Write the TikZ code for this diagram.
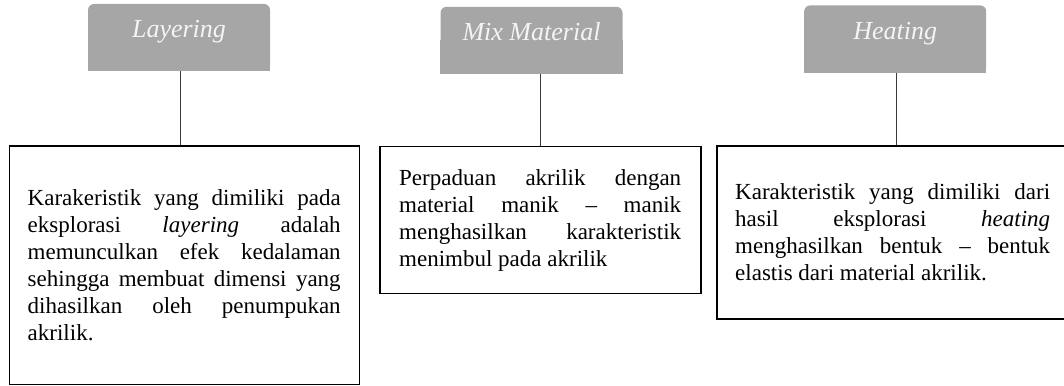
\documentclass[tikz,border=0pt]{standalone}
\usepackage{fontspec}
\setmainfont{Liberation Serif}
\usetikzlibrary{backgrounds}
\hyphenpenalty=10000
\tolerance=9999
\hbadness=10000
\definecolor{tabgray}{HTML}{A6A6A6}
\definecolor{tabtext}{HTML}{F4F4F4}
\definecolor{linkgray}{HTML}{3A3A3A}
\tikzset{
    tab/.style={fill=tabgray, rounded corners=6pt, inner sep=0pt,
        minimum width=182pt, minimum height=67pt,
        text height=34pt, text depth=33pt, text=tabtext,
        font=\fontsize{26}{30}\selectfont\itshape},
    card/.style={draw, line width=1.5pt, inner sep=0pt, anchor=north west},
    cardtext/.style={anchor=base west, inner sep=0pt, align=justify,
        font=\fontsize{23}{27}\selectfont},
    link/.style={draw=linkgray, line width=1pt}
}

\begin{document}
\begin{tikzpicture}[x=1pt, y=1pt]
        \useasboundingbox (0,0) rectangle (1064,-385);

        \node[tab] (layTab) at (179,-37.5) {Layering};
        \node[tab] (mixTab) at (531.5,-40.3) {Mix Material};
        \node[tab] (heatTab) at (895.2,-38.9) {Heating};

        \begin{scope}[on background layer]
            \foreach \n in {layTab, mixTab, heatTab} {
                \fill[tabgray] (\n.west) rectangle (\n.south east);
            }
        \end{scope}

        \node[card, minimum width=350pt, minimum height=238.5pt] (layCard) at (8.5,-145) {};
        \node[card, minimum width=321pt, minimum height=147pt] (mixCard) at (379,-145.5) {};
        \node[card, minimum width=360pt, minimum height=173pt] (heatCard) at (716,-145) {};

        \node[cardtext, text width=313pt] (layText) at ([xshift=19pt, yshift=-60pt]layCard.north west)
            {Karakeristik yang dimiliki pada\linebreak
             eksplorasi \textit{layering} adalah\linebreak
             memunculkan efek kedalaman\linebreak
             sehingga membuat dimensi yang\linebreak
             dihasilkan oleh penumpukan\linebreak
             akrilik.};
        \node[cardtext, text width=282pt] (mixText) at ([xshift=20pt, yshift=-39.5pt]mixCard.north west)
            {Perpaduan akrilik dengan\linebreak
             material manik -- manik\linebreak
             menghasilkan karakteristik\linebreak
             menimbul pada akrilik};
        \node[cardtext, text width=315pt] (heatText) at ([xshift=19pt, yshift=-54pt]heatCard.north west)
            {Karakteristik yang dimiliki dari\linebreak
             hasil eksplorasi \textit{heating}\linebreak
             menghasilkan bentuk -- bentuk\linebreak
             elastis dari material akrilik.};

        \draw[link] ([xshift=1pt]layTab.south) -- ([xshift=1pt]layTab.south |- layCard.north);
        \foreach \n in {mix, heat} {
            \draw[link] (\n Card.north |- \n Tab.south) -- (\n Card.north);
        }
    \end{tikzpicture}
\end{document}
